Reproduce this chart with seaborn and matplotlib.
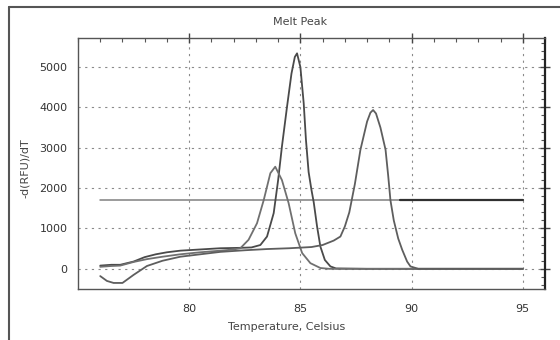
import matplotlib
matplotlib.use("Agg")
import matplotlib.pyplot as plt
from matplotlib.lines import Line2D
from matplotlib.ticker import MultipleLocator
import seaborn as sns
import pandas as pd

# Data
temp_a = [76.0, 76.5, 76.9, 77.5, 78.0, 78.5, 79.0, 79.6, 80.5, 81.4, 82.3, 82.8, 83.2,
          83.5, 83.8, 84.0, 84.17, 84.4, 84.6, 84.75, 84.85, 85.0, 85.15, 85.25, 85.37,
          85.5, 85.6, 85.75, 85.9, 86.1, 86.35, 86.6, 88.0, 90.0, 92.0, 95.0]
rfu_a = [80, 100, 100, 180, 290, 360, 410, 450, 480, 510, 520, 530, 590,
         800, 1380, 2200, 3030, 4020, 4840, 5250, 5340, 5000, 4100, 3200, 2400,
         1950, 1650, 1050, 550, 220, 60, 10, 0, 0, 0, 0]

temp_b = [76.0, 76.5, 76.9, 77.5, 78.1, 78.8, 79.6, 80.5, 81.4, 82.0, 82.3, 82.67,
          83.05, 83.35, 83.65, 83.87, 84.17, 84.47, 84.77, 85.08, 85.45, 85.9, 86.3,
          88.0, 90.0, 95.0]
rfu_b = [50, 70, 80, 170, 240, 300, 360, 410, 450, 480, 510, 720,
         1130, 1700, 2370, 2530, 2200, 1630, 880, 390, 140, 20, 0,
         0, 0, 0]

temp_c = [76.0, 76.3, 76.6, 77.0, 77.5, 78.1, 78.8, 79.6, 80.5, 81.4, 82.5, 83.5,
          84.5, 85.5, 86.0, 86.5, 86.8, 87.0, 87.2, 87.45, 87.7, 88.0, 88.15, 88.27,
          88.4, 88.6, 88.83, 88.95, 89.05, 89.2, 89.4, 89.58, 89.8, 89.95, 90.3, 92.0, 95.0]
rfu_c = [-180, -300, -350, -350, -150, 70, 200, 300, 360, 420, 460, 490,
         510, 540, 590, 700, 800, 1050, 1400, 2100, 2950, 3650, 3870, 3935,
         3850, 3500, 2950, 2300, 1700, 1200, 750, 470, 180, 60, 0, 0, 0]

thresh_t = [76.0, 95.0]
thresh_v = [1700, 1700]

df = pd.concat([
    pd.DataFrame({"Temp": temp_a, "RFU": rfu_a, "Sample": "A"}),
    pd.DataFrame({"Temp": temp_b, "RFU": rfu_b, "Sample": "B"}),
    pd.DataFrame({"Temp": temp_c, "RFU": rfu_c, "Sample": "C"}),
])

sns.set_style("white")
plt.rcParams["font.family"] = ["DejaVu Sans"]

fig = plt.figure(figsize=(5.6, 3.4), dpi=100)
ax = fig.add_axes([78 / 560, 1 - 289 / 340, (545 - 78) / 560, (289 - 38) / 340])

# threshold line
sns.lineplot(x=thresh_t, y=thresh_v, color="#808080", linewidth=1.1, ax=ax)
sns.lineplot(x=[89.5, 95.0], y=thresh_v, color="#303030", linewidth=1.6, ax=ax)

sns.lineplot(data=df, x="Temp", y="RFU", hue="Sample", sort=False, estimator=None,
             palette={"A": "#4a4a4a", "B": "#707070", "C": "#5e5e5e"},
             linewidth=1.3, legend=False, ax=ax)

ax.set_xlim(75, 96)
ax.set_ylim(-500, 5720)
ax.set_xticks([80, 85, 90, 95])
ax.set_yticks([0, 1000, 2000, 3000, 4000, 5000])
ax.xaxis.set_minor_locator(MultipleLocator(1))
ax.yaxis.set_minor_locator(MultipleLocator(200))
ax.grid(True, which="major", linestyle=(0, (2, 4)), color="#8a8a8a", linewidth=0.8)

ax.tick_params(which="major", direction="inout", length=7, width=1, color="#444",
               labelsize=8, labelcolor="#333", top=True, right=True)
ax.tick_params(axis="x", which="major", pad=7)
ax.tick_params(axis="y", which="major", pad=4)
ax.tick_params(which="minor", direction="in", length=3, width=0.8, color="#555",
               top=True, right=True)

for side in ["left", "bottom", "top"]:
    ax.spines[side].set_color("#555")
    ax.spines[side].set_linewidth(1.0)
ax.spines["right"].set_color("#222")
ax.spines["right"].set_linewidth(1.6)

ax.set_xlabel("")
ax.set_ylabel("")
fig.text(300 / 560, 1 - 22 / 340, "Melt Peak", ha="center", va="center",
         fontsize=8, color="#444")
fig.text(287 / 560, 1 - 327 / 340, "Temperature, Celsius", ha="center", va="center",
         fontsize=8, color="#444")
fig.text(25 / 560, 1 - 168 / 340, "-d(RFU)/dT", ha="center", va="center",
         rotation=90, fontsize=8, color="#444")

# outer frame of the scanned page
fig.add_artist(Line2D([9 / 560, 9 / 560], [0, 1 - 7 / 340], transform=fig.transFigure,
                      color="#555", linewidth=1.5))
fig.add_artist(Line2D([9 / 560, 1], [1 - 7 / 340, 1 - 7 / 340], transform=fig.transFigure,
                      color="#555", linewidth=1.5))

fig.savefig("out.png", dpi=100)
